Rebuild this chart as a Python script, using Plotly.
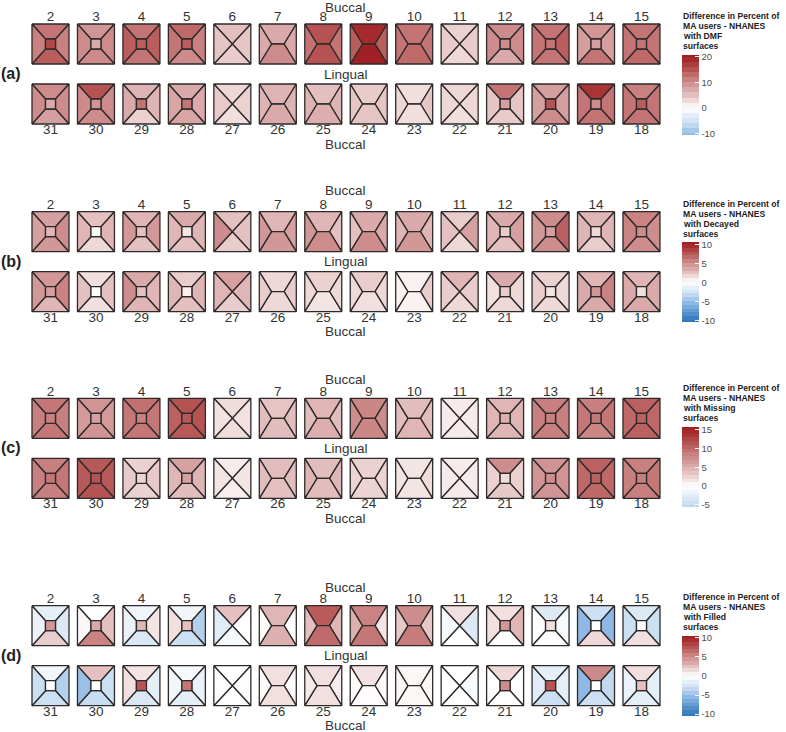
import plotly.graph_objects as go

# ---------------- data ----------------
UPPER_TEETH = [2, 3, 4, 5, 6, 7, 8, 9, 10, 11, 12, 13, 14, 15]
LOWER_TEETH = [31, 30, 29, 28, 27, 26, 25, 24, 23, 22, 21, 20, 19, 18]
CANINES = [6, 11, 22, 27]
INCISORS = [7, 8, 9, 10, 23, 24, 25, 26]

PANEL_TAGS = ["(a)", "(b)", "(c)", "(d)"]
PANEL_MEASURES = ["DMF", "Decayed", "Missing", "Filled"]
LEGEND_TICKS = [[-10, 0, 10, 20], [-10, -5, 0, 5, 10], [-5, 0, 5, 10, 15], [-10, -5, 0, 5, 10]]
LEGEND_RANGE = [[-10.6, 20.6], [-10.5, 10.5], [-5.6, 15.8], [-10.5, 10.5]]

# surface values per tooth, order: [upper face, right face, lower face, left face, centre]
DMF_UPPER = [[12, 11, 14, 11, 16], [9, 10, 10, 10, 7], [12, 14, 12, 14, 14], [13, 11, 10, 12, 14],
             [5, 4.5, 4, 4.5, None], [7, 7, 10, 7, None], [15, 12, 15, 12, None], [19, 14, 20, 14, None],
             [12, 12, 13, 12, None], [3.5, 4, 3, 4, None], [10, 10, 7, 10, 10], [12, 14, 12, 12, 12],
             [9, 8, 12, 8, 8], [12, 12, 13, 12, 12]]
DMF_LOWER = [[10, 10, 8, 10, 7], [15, 10, 10, 10, 9], [6, 6, 3.5, 7, 12], [7, 7, 7.5, 7.5, 12],
             [3, 3.5, 2.5, 4, None], [6, 6, 7, 6, None], [5, 6, 6.5, 6, None], [4, 4.5, 4.5, 4.5, None],
             [2.5, 4.5, 2.5, 3, None], [3, 3, 2.5, 3, None], [12, 4.5, 4, 4.5, 8], [8, 8, 10, 8, 15],
             [18, 12, 12, 12, 10], [11, 12, 12, 12, 14]]
DEC_UPPER = [[4, 5, 4.5, 4, 3], [2.5, 3, 1.5, 3, 0.2], [3, 4.5, 2.5, 4.5, 2.5], [3.5, 3, 2.5, 3, 1],
             [2.5, 2.5, 2, 5, None], [3, 4, 4.5, 4.5, None], [3, 2.5, 5, 4.5, None], [3.5, 3.5, 5, 2.5, None],
             [3.5, 3, 4.5, 3, None], [2, 4, 1.5, 2.5, None], [3.5, 4, 2.5, 3, 2], [5, 7, 5, 4.5, 4],
             [3, 3, 2, 3, 1.5], [5.5, 5, 5, 5.5, 5]]
DEC_LOWER = [[4.5, 5.5, 3, 4.5, 4], [1.2, 2.5, 1.2, 2.5, 0.2], [3.5, 3, 3, 5, 2.5], [2, 3, 2.5, 3, 0.6],
             [4, 3, 2, 3, None], [1.5, 2, 1.5, 2, None], [1.8, 1.5, 1, 1.5, None], [2, 1.5, 1.2, 1.5, None],
             [0.5, 2, 0.5, 0.5, None], [3, 2, 1.5, 2, None], [3.5, 1.5, 1.5, 1.2, 2], [1.8, 1.5, 1.5, 2, 1],
             [3, 5.5, 3.5, 3.5, 4.5], [3, 3.5, 3.5, 3.5, 1.2]]
MIS_UPPER = [[9, 8.5, 9, 8.5, 8.5], [7, 6.5, 7, 6.5, 6], [9.5, 9, 9, 9, 8.5], [11.5, 11.5, 11, 10.5, 11],
             [2, 1.7, 2, 1.7, None], [3.5, 4, 4, 4, None], [4.5, 4, 5, 4, None], [8, 7.5, 8, 7.5, None],
             [4, 4, 4.5, 4, None], [1.2, 1.2, 1.2, 1.2, None], [4.5, 4.5, 4.5, 4.5, 5], [8.5, 8.5, 8.5, 8.5, 8.5],
             [8.5, 9, 8, 9, 9], [10.5, 10, 10.5, 10, 10.5]]
MIS_LOWER = [[8.5, 9, 8.5, 8.5, 9], [11, 11, 11.5, 11, 11.5], [2.7, 3.2, 2.7, 3.2, 2.5], [6, 4.5, 4, 4.5, 6],
             [1.2, 1.5, 1, 1.5, None], [4, 4, 3.8, 4, None], [4, 4.5, 4, 4.5, None], [2.7, 2.5, 2.5, 2.5, None],
             [1.5, 2, 1.5, 1.5, None], [1.2, 1.2, 1.2, 1.2, None], [7.5, 2.7, 3.2, 2.7, 2], [7, 7, 7, 7, 7.5],
             [10.5, 10, 10, 10, 10.5], [8.5, 9, 8.5, 8.5, 8.5]]
FIL_UPPER = [[-1.5, -2, 2, -1.2, 4.5], [0, 2.5, 5.5, 0.3, 3.5], [-0.8, 1, -2.2, -1.2, 3], [-0.8, -4, -3, 1.2, 2.5],
             [2.5, 0, -0.5, -1.8, None], [3, 0, 3.2, 0.2, None], [7.2, 3, 6.5, 2.5, None], [5.5, 1, 6, 3.2, None],
             [5, 2.2, 5.8, 2.2, None], [1.2, -2, 0, -0.6, None], [1.2, 3, 0, 1.2, 4.5], [-2, -0.4, 0, -0.2, 1.2],
             [-3, -5.5, 1.5, -5.5, 0], [-2, -3, 1.2, -3, 0]]
FIL_LOWER = [[-0.8, -4, -3, -3, 0], [2.5, -3, -3.2, -5, 0], [1, -1.5, -2.2, 1.2, 7.5], [-0.5, -1.2, -1.5, -0.8, 6],
             [0, -0.1, 0, 0.1, None], [1.2, 0.2, 1.2, 0.2, None], [1.2, 0.8, 1.2, 0.8, None], [1.1, 0.2, 0.1, 0.2, None],
             [0.3, 0.3, 0.3, 0.3, None], [0, -0.4, 0, 0, None], [1.5, 0, 0, 0, 5], [-1.5, -1.5, -3, -1.8, 7.5],
             [5.2, -3.5, -3, -5.5, 0], [1.2, -1.5, -1.5, -1.2, 2.5]]

PANELS_UPPER = [DMF_UPPER, DEC_UPPER, MIS_UPPER, FIL_UPPER]
PANELS_LOWER = [DMF_LOWER, DEC_LOWER, MIS_LOWER, FIL_LOWER]

# ---------------- layout constants (pixels) ----------------
W, H = 786, 732
X0, DX = 50.5, 45.46
TW, TH = 37.0, 40.0
SQ = 5.0      # half size of occlusal square
IH = 6.3      # half width of incisal edge
ROW_GAP = 60.0
PANEL_TOP = [24.0, 211.7, 398.3, 605.7]
BUCCAL_TOP_Y = [7.0, 190.0, 379.0, 587.0]
BAR_TOP = [55.0, 242.5, 427.0, 636.0]
BAR_X = 681.7
FONT = "Liberation Sans, Arial, sans-serif"
LINE = "#2e2a2a"

RED = [(0, (255, 255, 255)), (0.15, (238, 214, 214)), (0.3, (221, 177, 177)), (0.5, (204, 136, 136)),
       (0.7, (184, 88, 88)), (0.85, (170, 56, 56)), (1.0, (158, 28, 32))]
BLUE = [(0, (255, 255, 255)), (0.15, (228, 238, 248)), (0.3, (202, 222, 242)), (0.5, (148, 188, 230)),
        (0.75, (92, 150, 208)), (1.0, (44, 116, 184))]


def shade(v, M):
    t = max(-1.0, min(1.0, v / M))
    anchors = RED if t >= 0 else BLUE
    t = abs(t)
    for (t0, c0), (t1, c1) in zip(anchors[:-1], anchors[1:]):
        if t <= t1:
            f = (t - t0) / (t1 - t0)
            c = [round(a + (b - a) * f) for a, b in zip(c0, c1)]
            return "rgb(%d,%d,%d)" % tuple(c)
    return "rgb(%d,%d,%d)" % anchors[-1][1]


def tooth_polys(tooth, cx, cy):
    x0, x1 = cx - TW / 2, cx + TW / 2
    y0, y1 = cy - TH / 2, cy + TH / 2
    if tooth in CANINES:
        return [[(x0, y0), (x1, y0), (cx, cy)], [(x1, y0), (x1, y1), (cx, cy)],
                [(x0, y1), (x1, y1), (cx, cy)], [(x0, y0), (x0, y1), (cx, cy)], None]
    if tooth in INCISORS:
        a, b = (cx - IH, cy), (cx + IH, cy)
        return [[(x0, y0), (x1, y0), b, a], [(x1, y0), (x1, y1), b],
                [(x0, y1), (x1, y1), b, a], [(x0, y0), (x0, y1), a], None]
    tl, tr, br, bl = (cx - SQ, cy - SQ), (cx + SQ, cy - SQ), (cx + SQ, cy + SQ), (cx - SQ, cy + SQ)
    return [[(x0, y0), (x1, y0), tr, tl], [(x1, y0), (x1, y1), br, tr],
            [(x0, y1), (x1, y1), br, bl], [(x0, y0), (x0, y1), bl, tl], [tl, tr, br, bl]]


fig = go.Figure()
annotations = []
centers = [X0 + i * DX for i in range(len(UPPER_TEETH))]
xmid = sum(centers) / len(centers)

for p in range(4):
    cmin, cmax = LEGEND_RANGE[p]
    M = max(abs(cmin), abs(cmax))
    T = PANEL_TOP[p]
    for teeth, vals, top in ((UPPER_TEETH, PANELS_UPPER[p], T), (LOWER_TEETH, PANELS_LOWER[p], T + ROW_GAP)):
        cy = top + TH / 2
        for i, tooth in enumerate(teeth):
            polys = tooth_polys(tooth, centers[i], cy)
            for poly, v in zip(polys, vals[i]):
                if poly is None or v is None:
                    continue
                xs = [q[0] for q in poly] + [poly[0][0]]
                ys = [q[1] for q in poly] + [poly[0][1]]
                fig.add_trace(go.Scatter(x=xs, y=ys, mode="lines", fill="toself",
                                         fillcolor=shade(v, M),
                                         line=dict(color=LINE, width=1.3),
                                         hoverinfo="skip", showlegend=False))
    # tooth numbers
    fig.add_trace(go.Scatter(x=centers, y=[T - 6] * len(centers), mode="text",
                             text=[str(t) for t in UPPER_TEETH],
                             textfont=dict(family=FONT, size=13.5, color="#333333"),
                             hoverinfo="skip", showlegend=False))
    fig.add_trace(go.Scatter(x=centers, y=[T + ROW_GAP + TH + 6.5] * len(centers), mode="text",
                             text=[str(t) for t in LOWER_TEETH],
                             textfont=dict(family=FONT, size=13.5, color="#333333"),
                             hoverinfo="skip", showlegend=False))
    for txt, yy in (("Buccal", BUCCAL_TOP_Y[p]), ("Lingual", T + 50), ("Buccal", T + 120)):
        annotations.append(dict(x=xmid, y=yy, xref="x", yref="y", text=txt, showarrow=False,
                                font=dict(family=FONT, size=13.5, color="#333333"),
                                xanchor="center", yanchor="middle"))
    annotations.append(dict(x=11, y=T + 49.5, xref="x", yref="y", text="<b>%s</b>" % PANEL_TAGS[p],
                            showarrow=False, font=dict(family=FONT, size=16, color="#222222"),
                            xanchor="center", yanchor="middle"))
    title_lines = ["Difference in Percent of", "MA users - NHANES",
                   "with %s" % PANEL_MEASURES[p], "surfaces"]
    for k, line in enumerate(title_lines):
        annotations.append(dict(x=BAR_X - 1, y=BAR_TOP[p] - 39 + 10 * k, xref="x", yref="y",
                                text="<b>%s</b>" % line, showarrow=False,
                                font=dict(family=FONT, size=8.6, color="#222222"),
                                xanchor="left", yanchor="middle"))
    # stepped colour bar
    step = 2 if (cmax - cmin) > 25 else 1
    edges = [cmin] + [k * step for k in range(int(cmin // step) + 1, int(cmax // step) + 1) if cmin < k * step < cmax] + [cmax]
    cs = []
    for e0, e1 in zip(edges[:-1], edges[1:]):
        col = shade((e0 + e1) / 2, M)
        cs.append([(e0 - cmin) / (cmax - cmin), col])
        cs.append([(e1 - cmin) / (cmax - cmin), col])
    bar_len = 80
    fig.add_trace(go.Scatter(x=[-100, -100], y=[-100, -100], mode="markers",
                             marker=dict(color=[cmin, cmax], cmin=cmin, cmax=cmax, colorscale=cs,
                                         showscale=True,
                                         colorbar=dict(x=BAR_X / W, xanchor="left", xpad=0, ypad=0,
                                                       y=1 - BAR_TOP[p] / H, yanchor="top",
                                                       len=bar_len, lenmode="pixels", thickness=17,
                                                       outlinewidth=0, tickvals=LEGEND_TICKS[p],
                                                       ticktext=[str(t) for t in LEGEND_TICKS[p]],
                                                       ticks="inside", ticklen=4, tickcolor="white",
                                                       tickfont=dict(family=FONT, size=9.5, color="#4d4d4d"))),
                             hoverinfo="skip", showlegend=False))

fig.update_layout(width=W, height=H, margin=dict(l=0, r=0, t=0, b=0, pad=0),
                  paper_bgcolor="white", plot_bgcolor="white",
                  xaxis=dict(range=[0, W], visible=False, domain=[0, 1], fixedrange=True),
                  yaxis=dict(range=[H, 0], visible=False, domain=[0, 1], fixedrange=True),
                  annotations=annotations, showlegend=False)

fig.write_html("out.html", config={"displayModeBar": False},
               post_script="document.body.style.margin='0';")
